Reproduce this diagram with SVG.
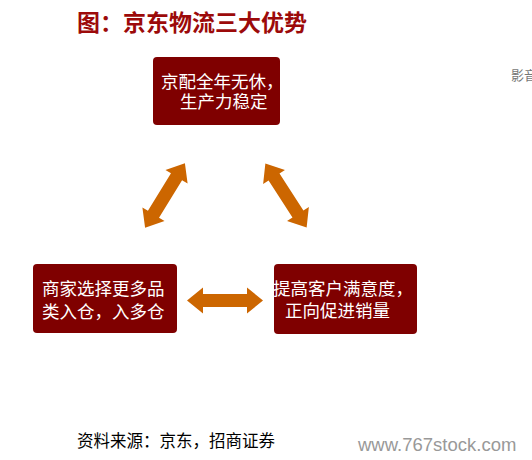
<svg xmlns="http://www.w3.org/2000/svg" width="532" height="460" viewBox="0 0 532 460">
<style>
.box{fill:#7f0000;}
.bt{font-family:"Noto Sans CJK SC","Noto Sans",sans-serif;font-size:17.5px;fill:#ffffff;}
.arr{fill:#cc6600;}
</style>
<defs>
<path id="dbl" d="M -38 0 L -22 -13 L -22 -6.5 L 22 -6.5 L 22 -13 L 38 0 L 22 13 L 22 6.5 L -22 6.5 L -22 13 Z"/>
</defs>
<rect width="532" height="460" fill="#ffffff"/>
<text x="77" y="30.5" font-family="'Noto Sans CJK SC',sans-serif" font-size="23" font-weight="bold" fill="#9c0a0a">图：京东物流三大优势</text>
<text x="511" y="80" font-family="'Noto Sans CJK SC',sans-serif" font-size="13" fill="#777777">影音</text>
<g id="connectors" class="arr">
<use href="#dbl" transform="translate(165 195.5) rotate(-58.4)"/>
<use href="#dbl" transform="translate(286 195.5) rotate(57.1)"/>
<use href="#dbl" transform="translate(225 300.5)"/>
</g>
<g id="node-top">
<rect class="box" x="153" y="57" width="127" height="68" rx="4"/>
<text class="bt" x="161" y="88">京配全年无休，</text>
<text class="bt" x="180" y="108">生产力稳定</text>
</g>
<g id="node-left">
<rect class="box" x="33" y="264" width="144" height="69" rx="4"/>
<text class="bt" x="42" y="295">商家选择更多品</text>
<text class="bt" x="42" y="317.5">类入仓，入多仓</text>
</g>
<g id="node-right">
<rect class="box" x="274" y="264" width="143" height="70" rx="4"/>
<text class="bt" x="273" y="295">提高客户满意度，</text>
<text class="bt" x="285" y="317">正向促进销量</text>
</g>
<text x="77" y="447" font-family="'Noto Sans CJK SC',sans-serif" font-size="16.5" fill="#000000">资料来源：京东，招商证券</text>
<text x="358" y="451" font-family="'Liberation Sans',Arial,sans-serif" font-size="18.5" fill="#999999">www.767stock.com</text>
</svg>
